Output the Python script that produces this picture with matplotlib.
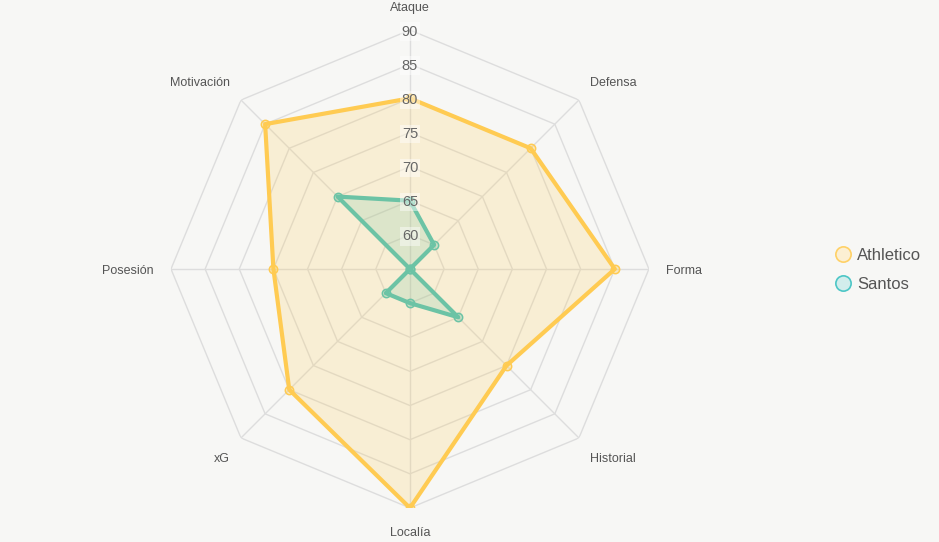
import numpy as np
import matplotlib
matplotlib.use("Agg")
from matplotlib import pyplot as plt
from matplotlib.lines import Line2D

categories = ["Ataque", "Defensa", "Forma", "Historial", "Localía", "xG", "Posesión", "Motivación"]
athletico = [80, 80, 85, 75, 90, 80, 75, 85]
santos = [65, 60, 55, 65, 60, 60, 55, 70]
ticks = [60, 65, 70, 75, 80, 85, 90]
rmin, rmax = 55, 90

bg = "#F7F7F5"
yel = "#FFCB52"
grn = "#6CC3A5"

plt.rcParams["font.family"] = ["Liberation Sans", "DejaVu Sans"]

fig = plt.figure(figsize=(9.39, 5.42), dpi=100)
fig.patch.set_facecolor(bg)
ax = fig.add_axes([0.1821, 0.0627, 0.509, 0.882], projection="polar")
ax.set_facecolor(bg)
ax.patch.set_alpha(0)
ax.set_theta_zero_location("N")
ax.set_theta_direction(-1)
ax.set_ylim(rmin, rmax)
ax.spines["polar"].set_visible(False)
ax.grid(False)
ax.set_xticks([])
ax.set_yticks([])

n = len(categories)
ang = np.linspace(0, 2 * np.pi, n, endpoint=False)
ang_c = np.append(ang, ang[0])

# polygon grid
for t in [rmin] + ticks:
    ax.plot(ang_c, [t] * (n + 1), color="#DDDDDD", lw=1, zorder=1)
for a in ang:
    ax.plot([a, a], [rmin, rmax], color="#DDDDDD", lw=1, zorder=1)

def series(vals, col, lw):
    v = np.append(vals, vals[0])
    ax.fill(ang_c, v, color=col, alpha=0.2, lw=0, zorder=2)
    ax.plot(ang_c, v, color=col, lw=lw, zorder=3)
    ax.plot(ang, vals, "o", ms=6, mfc=col + "55", mec=col, mew=1.1, zorder=4, ls="none")

series(athletico, yel, 3)
series(santos, grn, 3)

# tick labels along Ataque axis
for t in ticks:
    ax.annotate(str(t), xy=(0, t), xytext=(0, -1.5), textcoords="offset pixels",
                ha="center", va="center", fontsize=10.5, color="#666666", zorder=5,
                bbox=dict(boxstyle="square,pad=0.15", fc="white", ec="none", alpha=0.45))

# category labels
offs = {
    0: ((0, 22), "center", "center"),
    1: ((11, 17), "left", "center"),
    2: ((17, -2), "left", "center"),
    3: ((11, -21), "left", "center"),
    4: ((0, -25), "center", "center"),
    5: ((-11, -21), "right", "center"),
    6: ((-17, -2), "right", "center"),
    7: ((-11, 17), "right", "center"),
}
for i, c in enumerate(categories):
    (dx, dy), ha, va = offs[i]
    ax.annotate(c, xy=(ang[i], rmax), xytext=(dx, dy), textcoords="offset pixels",
                ha=ha, va=va, fontsize=9, color="#555555", annotation_clip=False)

handles = [
    Line2D([], [], ls="none", marker="o", ms=11, mfc="#FCEFD3", mec="#FFD166", mew=1.2),
    Line2D([], [], ls="none", marker="o", ms=11, mfc="#D2EDEC", mec="#4CC6C6", mew=1.2),
]
leg = fig.legend(handles, ["Athletico", "Santos"], loc="center left",
                 bbox_to_anchor=(818 / 939, 1 - 270 / 542), frameon=False,
                 fontsize=12, handletextpad=0.25, labelspacing=0.85, handlelength=1.2)
for t in leg.get_texts():
    t.set_color("#555555")

fig.savefig("out.png", dpi=100, facecolor=bg)
